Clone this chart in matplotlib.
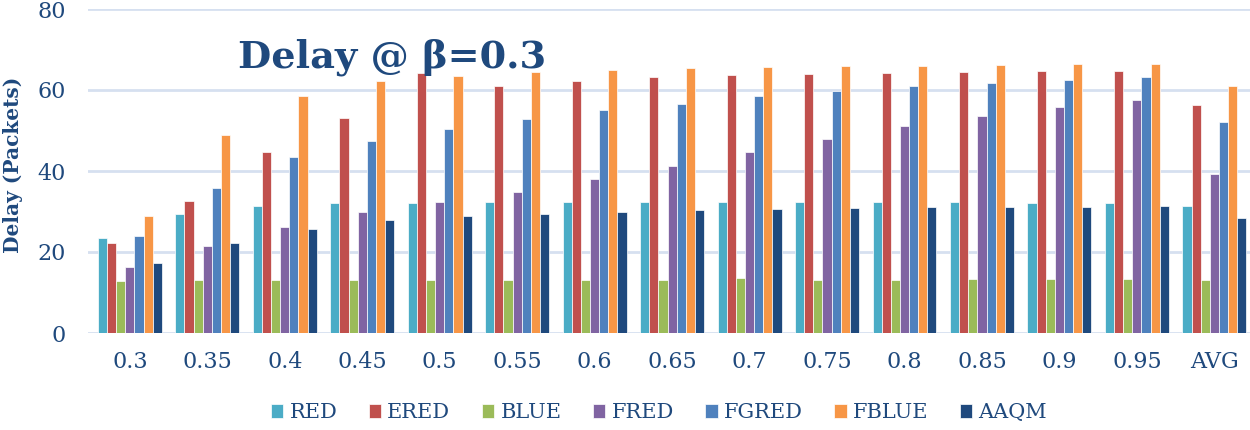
import numpy as np
import matplotlib
matplotlib.use("Agg")
import matplotlib.pyplot as plt

# beta values (x categories)
categories = ["0.3", "0.35", "0.4", "0.45", "0.5", "0.55", "0.6", "0.65",
              "0.7", "0.75", "0.8", "0.85", "0.9", "0.95", "AVG"]

red   = [23.5, 29.4, 31.3, 32.0, 32.2, 32.3, 32.3, 32.3, 32.3, 32.3, 32.3, 32.3, 32.2, 32.1, 31.4]
ered  = [22.2, 32.6, 44.8, 53.1, 64.1, 61.0, 62.2, 63.1, 63.7, 64.0, 64.2, 64.4, 64.6, 64.7, 56.3]
blue  = [12.8, 13.0, 13.0, 13.2, 13.2, 13.1, 13.0, 13.2, 13.5, 13.2, 13.2, 13.4, 13.4, 13.3, 13.1]
fred  = [16.3, 21.6, 26.2, 29.9, 32.3, 34.9, 38.0, 41.2, 44.6, 48.0, 51.2, 53.6, 55.8, 57.6, 39.3]
fgred = [24.0, 35.7, 43.5, 47.3, 50.3, 52.8, 55.0, 56.6, 58.5, 59.8, 61.0, 61.8, 62.5, 63.1, 52.2]
fblue = [29.0, 49.0, 58.6, 62.3, 63.5, 64.5, 65.0, 65.4, 65.7, 65.9, 66.0, 66.2, 66.3, 66.4, 61.0]
aaqm  = [17.3, 22.1, 25.7, 27.8, 28.8, 29.5, 30.0, 30.4, 30.6, 30.8, 31.0, 31.2, 31.2, 31.4, 28.4]

series = ["RED", "ERED", "BLUE", "FRED", "FGRED", "FBLUE", "AAQM"]
values = [red, ered, blue, fred, fgred, fblue, aaqm]
colors = ["#4bacc6", "#c0504d", "#9bbb59", "#8064a2", "#4f81bd", "#f79646", "#1f497d"]

txt = "#1f497d"
plt.rcParams['font.family'] = ['DejaVu Serif']

fig = plt.figure(figsize=(12.5, 4.3), dpi=100)
ax = fig.add_axes([88 / 1250, 97 / 430, 1 - 88 / 1250, 324 / 430])

x = np.arange(len(categories))
w = 0.118
for i, (name, vals, c) in enumerate(zip(series, values, colors)):
    ax.bar(x + (i - 3) * w, vals, w, color=c, label=name, zorder=3,
           edgecolor="white", linewidth=0.5)

ax.set_xlim(-0.54, 14.46)
ax.set_ylim(0, 80)
ax.set_yticks([0, 20, 40, 60, 80])
ax.set_xticks(x)
ax.set_xticklabels(categories)
ax.tick_params(axis="both", length=0, labelsize=16, colors=txt)
ax.tick_params(axis="x", pad=13)
ax.tick_params(axis="y", pad=16)
ax.grid(axis="y", color="#d6e0f0", linewidth=2, zorder=0)
for s in ax.spines.values():
    s.set_visible(False)

ax.set_ylabel("Delay (Packets)", fontsize=14.5, fontweight="bold", color=txt)
ax.yaxis.set_label_coords(-0.056, 0.52)

fig.text(0.19, 0.868, "Delay @ β=0.3", fontsize=27.5, fontweight="bold", color=txt,
         ha="left", va="center")

leg = fig.legend(loc="center", bbox_to_anchor=(0.527, 0.04), ncol=7, frameon=False,
                 fontsize=15, handlelength=0.6, handleheight=0.6, handletextpad=0.3,
                 columnspacing=1.5)
for t in leg.get_texts():
    t.set_color(txt)

fig.savefig("out.png", dpi=100)
